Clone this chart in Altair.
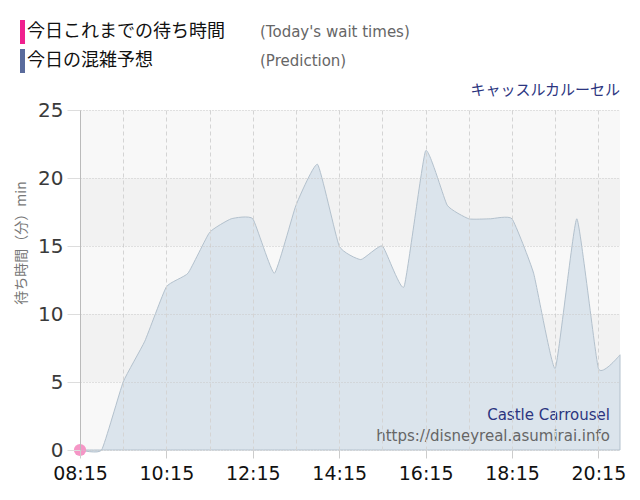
import altair as alt
import pandas as pd

# prediction, every 30 minutes
times = [
    "08:15", "08:45", "09:15", "09:45", "10:15", "10:45", "11:15", "11:45",
    "12:15", "12:45", "13:15", "13:45", "14:15", "14:45", "15:15", "15:45",
    "16:15", "16:45", "17:15", "17:45", "18:15", "18:45", "19:15", "19:45",
    "20:15", "20:45",
]
predicted = [0, 0, 5, 8, 12, 13, 16, 17, 17, 13, 18, 21, 15, 14, 15, 12,
             22, 18, 17, 17, 17, 13, 6, 17, 6, 7]

# today's actual wait times so far
actual_times = ["08:15"]
actual_waits = [0]

band_lo = [0, 5, 10, 15, 20]
band_hi = [5, 10, 15, 20, 25]

LEGEND_ACTUAL = "今日これまでの待ち時間"
LEGEND_ACTUAL_EN = "(Today's wait times)"
LEGEND_PRED = "今日の混雑予想"
LEGEND_PRED_EN = "(Prediction)"
ATTRACTION_JA = "キャッスルカルーセル"
ATTRACTION_EN = "Castle Carrousel"
SITE = "https://disneyreal.asumirai.info"
Y_TITLE = "待ち時間（分）min"

JP_FONT = "Noto Sans CJK JP"
NUM_FONT = "DejaVu Sans"


def to_min(t):
    h, m = t.split(":")
    return int(h) * 60 + int(m)


pred = pd.DataFrame({"time": times, "wait": predicted})
pred["t"] = pred["time"].map(to_min)
act = pd.DataFrame({"time": actual_times, "wait": actual_waits})
act["t"] = act["time"].map(to_min)
bands = pd.DataFrame({
    "lo": band_lo,
    "hi": band_hi,
    "fill": ["#f8f8f8", "#f2f2f2", "#f8f8f8", "#f2f2f2", "#f8f8f8"],
})
one = pd.DataFrame({"k": [0]})

t0, t1 = to_min("08:15"), to_min("20:45")
x_scale = alt.Scale(domain=[t0, t1], nice=False, zero=False)
y_scale = alt.Scale(domain=[0, 25], nice=False)

label_expr = (
    f"(datum.value - {t0}) % 120 == 0 ? "
    "((datum.value < 600 ? '0' : '') + floor(datum.value / 60) + ':' + "
    "(datum.value % 60 < 10 ? '0' : '') + (datum.value % 60)) : ''"
)

x_axis = alt.Axis(
    values=list(range(t0, t1 + 1, 30)),
    labelExpr=label_expr,
    labelOverlap=False,
    labelFlush=False,
    labelFont=NUM_FONT,
    labelFontSize=19,
    labelColor="#111",
    labelPadding=6,
    tickSize=8,
    tickColor="#ccc",
    tickOpacity={"condition": {"test": f"(datum.value - {t0}) % 120 == 0", "value": 1}, "value": 0},
    grid=True,
    gridColor="#d4d4d4",
    gridDash=[4, 3],
    domain=False,
    title=None,
    zindex=1,
)
y_axis = alt.Axis(
    values=[0, 5, 10, 15, 20, 25],
    labelFont=NUM_FONT,
    labelFontSize=20,
    labelColor="#3a3a3a",
    labelPadding=4,
    tickSize=13,
    tickColor="#dddddd",
    grid=True,
    gridColor="#c8c8c8",
    gridDash=[1, 2],
    domainColor="#bbb",
    title=None,
    zindex=1,
)

band_layer = alt.Chart(bands).mark_rect().encode(
    x=alt.value(0),
    x2=alt.value(540),
    y=alt.Y("lo:Q", scale=y_scale, axis=y_axis),
    y2="hi:Q",
    fill=alt.Fill("fill:N", scale=None),
)

area = alt.Chart(pred).mark_area(
    interpolate="cardinal",
    tension=0.6,
    fill="#d9e3eb",
    fillOpacity=0.95,
    stroke="#b3c1cd",
    strokeWidth=1,
).encode(
    x=alt.X("t:Q", scale=x_scale, axis=x_axis),
    y=alt.Y("wait:Q", scale=y_scale),
)

actual_pts = alt.Chart(act).mark_circle(size=150, color="#f596c6", opacity=1).encode(
    x=alt.X("t:Q", scale=x_scale),
    y=alt.Y("wait:Q", scale=y_scale),
)


def label(text, x, y, size=18, color="#111", font=JP_FONT, align="left", angle=0):
    return alt.Chart(one).mark_text(
        font=font, fontSize=size, color=color, align=align, baseline="middle", angle=angle
    ).encode(x=alt.value(x), y=alt.value(y), text=alt.value(text))


def swatch(color, y):
    return alt.Chart(one).mark_rect(color=color).encode(
        x=alt.value(-60), x2=alt.value(-55), y=alt.value(y - 12), y2=alt.value(y + 12)
    )


chart = alt.layer(
    band_layer,
    area,
    actual_pts,
    swatch("#f0208e", -78),
    swatch("#5a6b9c", -49),
    label(LEGEND_ACTUAL, -53, -78),
    label(LEGEND_ACTUAL_EN, 180, -78, size=15, color="#666", font=NUM_FONT),
    label(LEGEND_PRED, -53, -49),
    label(LEGEND_PRED_EN, 180, -49, size=15, color="#666", font=NUM_FONT),
    label(ATTRACTION_JA, 540, -20, size=15, color="#2c3580", align="right"),
    label(ATTRACTION_EN, 530, 305, size=15, color="#2c3580", font=NUM_FONT, align="right"),
    label(SITE, 530, 326, size=15, color="#666", font=NUM_FONT, align="right"),
    label(Y_TITLE, -58, 133, size=14, color="#777", align="center", angle=270),
).properties(
    width=540,
    height=340,
    autosize=alt.AutoSizeParams(type="none"),
    padding={"left": 72, "top": 102, "right": 12, "bottom": 42},
).configure_view(stroke=None)

chart.save("out.html", embed_options={"renderer": "svg", "actions": False})
